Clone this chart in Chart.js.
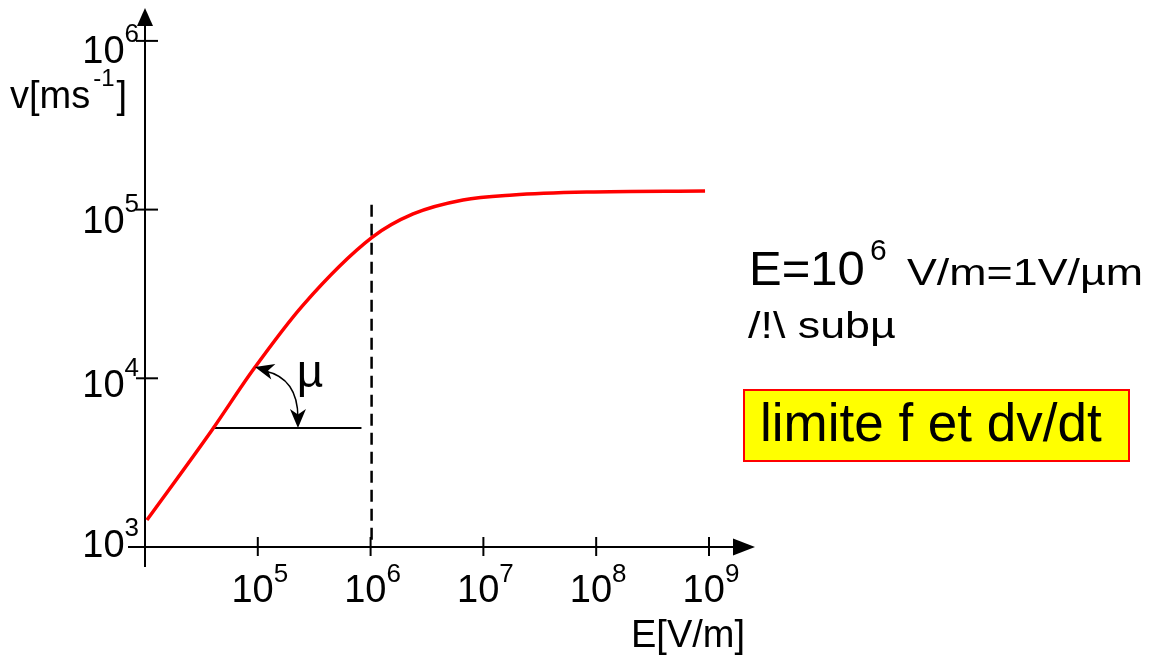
<!DOCTYPE html>
<html><head><meta charset="utf-8">
<script src="https://cdn.jsdelivr.net/npm/chart.js@4/dist/chart.umd.min.js"></script>
<style>html,body{margin:0;padding:0;background:#fff}canvas{display:block}</style>
</head><body><canvas id="c" width="1153" height="656"></canvas>
<script>
// ---- data ----
const fieldE   = [1.04e4, 3.93e4, 9.06e4, 2.52e5, 1.03e6, 2.38e6, 6.59e6, 1.83e7, 8.28e7, 9.23e8];
const velocity = [1445, 4943, 11190, 27160, 68390, 94190, 114000, 122200, 127100, 128800];
const xTickExponents = [5, 6, 7, 8, 9];
const yTickExponents = [3, 4, 5, 6];
const tickBase = '10';
const xTitle = 'E[V/m]';
const yTitleMain = 'v[ms', yTitleSup = '-1', yTitleEnd = ']';
const noteLine1 = ['E=10', '6', 'V/m=1V/µm'];
const noteLine2 = '/!\\ subµ';
const boxText = 'limite f et dv/dt';
const muLabel = 'µ';
// annotation anchors (data units)
const dashedE = 1e6, dashedTopV = 1.07e5;
const horizV = 5070, horizE = [3.98e4, 8.3e5];
const arcE = [9.06e4, 2.27e5, 2.27e5], arcV = [1.15e4, 1.0e4, 5070];
const muPos = [2.9e5, 8870];

const F = '"Liberation Sans", Arial, sans-serif';
const yLabelDy = [10, 19, 23, 22];

function arrowHead(ctx, tx, ty, dx, dy, len, half) {
  const L = Math.hypot(dx, dy); const ux = dx / L, uy = dy / L; const px = -uy, py = ux;
  const bx = tx - ux * len, by = ty - uy * len;
  ctx.beginPath();
  ctx.moveTo(tx, ty);
  ctx.lineTo(bx + px * half, by + py * half);
  ctx.lineTo(tx - ux * len * 0.72, ty - uy * len * 0.72);
  ctx.lineTo(bx - px * half, by - py * half);
  ctx.closePath(); ctx.fill();
}

const decor = {
  id: 'decor',
  beforeDatasetsDraw(chart) {
    const ctx = chart.ctx, xs = chart.scales.x, ys = chart.scales.y;
    const x0 = xs.getPixelForValue(xs.min), y0 = ys.getPixelForValue(ys.min);
    const xEnd = xs.getPixelForValue(xs.max), yTop = ys.getPixelForValue(ys.max);
    ctx.save();
    ctx.strokeStyle = '#000'; ctx.fillStyle = '#000'; ctx.lineWidth = 2;
    // axes
    ctx.beginPath(); ctx.moveTo(x0 - 17, y0); ctx.lineTo(xEnd - 10, y0); ctx.stroke();
    ctx.beginPath(); ctx.moveTo(x0, y0 + 20); ctx.lineTo(x0, yTop + 10); ctx.stroke();
    ctx.beginPath(); ctx.moveTo(xEnd, y0); ctx.lineTo(xEnd - 22, y0 - 8.5); ctx.lineTo(xEnd - 22, y0 + 8.5); ctx.closePath(); ctx.fill();
    ctx.beginPath(); ctx.moveTo(x0, yTop); ctx.lineTo(x0 - 8, yTop + 18); ctx.lineTo(x0 + 8, yTop + 18); ctx.closePath(); ctx.fill();
    // x ticks + labels
    xTickExponents.forEach(e => {
      const px = xs.getPixelForValue(Math.pow(10, e));
      ctx.beginPath(); ctx.moveTo(px, y0 - 10); ctx.lineTo(px, y0 + 9); ctx.stroke();
      ctx.font = '38px ' + F; const w1 = ctx.measureText(tickBase).width;
      ctx.font = '26px ' + F; const w2 = ctx.measureText(String(e)).width;
      const sx = px + 2 - (w1 + w2) / 2;
      ctx.textAlign = 'left'; ctx.textBaseline = 'alphabetic';
      ctx.font = '38px ' + F; ctx.fillText(tickBase, sx, 602);
      ctx.font = '26px ' + F; ctx.fillText(String(e), sx + w1, 582);
    });
    // y ticks + labels
    yTickExponents.forEach((e, i) => {
      const py = ys.getPixelForValue(Math.pow(10, e));
      if (i > 0) { ctx.beginPath(); ctx.moveTo(x0 - 9, py); ctx.lineTo(x0 + 13, py); ctx.stroke(); }
      ctx.font = '26px ' + F; const w2 = ctx.measureText(String(e)).width;
      ctx.font = '38px ' + F; const w1 = ctx.measureText(tickBase).width;
      const right = 139; const base = py + yLabelDy[i];
      ctx.textAlign = 'left';
      ctx.font = '38px ' + F; ctx.fillText(tickBase, right - w2 - w1, base);
      ctx.font = '26px ' + F; ctx.fillText(String(e), right - w2, base - 21);
    });
    // axis titles
    ctx.font = '38px ' + F; ctx.fillText(xTitle, 631, 647);
    let tx = 10;
    ctx.font = '38px ' + F; ctx.fillText(yTitleMain, tx, 108); tx += ctx.measureText(yTitleMain).width + 3;
    ctx.font = '24px ' + F; ctx.fillText(yTitleSup, tx, 86); tx += ctx.measureText(yTitleSup).width + 2;
    ctx.font = '38px ' + F; ctx.fillText(yTitleEnd, tx, 108);
    // dashed line
    const dx = xs.getPixelForValue(dashedE) + 1;
    ctx.setLineDash([12, 7]); ctx.lineWidth = 2.5;
    ctx.beginPath(); ctx.moveTo(dx, ys.getPixelForValue(dashedTopV)); ctx.lineTo(dx, y0 - 4); ctx.stroke();
    ctx.setLineDash([]);
    // horizontal reference line
    const hy = ys.getPixelForValue(horizV);
    ctx.lineWidth = 2;
    ctx.beginPath(); ctx.moveTo(xs.getPixelForValue(horizE[0]), hy); ctx.lineTo(xs.getPixelForValue(horizE[1]), hy); ctx.stroke();
    ctx.restore();
  },
  afterDatasetsDraw(chart) {
    const ctx = chart.ctx, xs = chart.scales.x, ys = chart.scales.y;
    ctx.save();
    ctx.strokeStyle = '#000'; ctx.fillStyle = '#000';
    // arc with two arrowheads
    const p = arcE.map((e, i) => [xs.getPixelForValue(e), ys.getPixelForValue(arcV[i])]);
    p[0][0] += 2; p[0][1] -= 1;
    ctx.lineWidth = 1.5;
    ctx.beginPath(); ctx.moveTo(p[0][0] + 10, p[0][1] + 4);
    ctx.quadraticCurveTo(p[1][0], p[1][1], p[2][0], p[2][1] - 10); ctx.stroke();
    arrowHead(ctx, p[0][0], p[0][1], p[0][0] - p[1][0], p[0][1] - p[1][1], 19, 8);
    arrowHead(ctx, p[2][0], p[2][1], p[2][0] - p[1][0], p[2][1] - p[1][1], 19, 8);
    // mu label
    ctx.font = '46px ' + F; ctx.textAlign = 'center'; ctx.textBaseline = 'alphabetic';
    ctx.fillText(muLabel, xs.getPixelForValue(muPos[0]), ys.getPixelForValue(muPos[1]));
    ctx.textAlign = 'left';
    // right-side note
    ctx.font = '49px ' + F; ctx.fillText(noteLine1[0], 749, 285);
    ctx.font = '30px ' + F; ctx.fillText(noteLine1[1], 870, 260);
    ctx.save(); ctx.translate(907, 285); ctx.scale(1.21, 1);
    ctx.font = '37px ' + F; ctx.fillText(noteLine1[2], 0, 0); ctx.restore();
    ctx.save(); ctx.translate(748, 338); ctx.scale(1.21, 1);
    ctx.font = '37px ' + F; ctx.fillText(noteLine2, 0, 0); ctx.restore();
    // yellow box
    ctx.fillStyle = '#ffff00'; ctx.fillRect(744, 390, 385, 71);
    ctx.strokeStyle = '#ff0000'; ctx.lineWidth = 2; ctx.strokeRect(744, 390, 385, 71);
    ctx.fillStyle = '#000'; ctx.font = '53px ' + F; ctx.fillText(boxText, 760, 441);
    ctx.restore();
  }
};

new Chart(document.getElementById('c'), {
  type: 'line',
  data: { datasets: [{
    data: fieldE.map((e, i) => ({ x: e, y: velocity[i] })),
    borderColor: '#ff0000', borderWidth: 3.5, pointRadius: 0, fill: false,
    cubicInterpolationMode: 'monotone'
  }] },
  options: {
    responsive: false, animation: false, devicePixelRatio: 1,
    layout: { padding: { left: 145, right: 398, top: 8, bottom: 109 } },
    plugins: { legend: { display: false }, tooltip: { enabled: false } },
    scales: {
      x: { type: 'logarithmic', min: 1e4, max: Math.pow(10, 9.408), display: false },
      y: { type: 'logarithmic', min: 1e3, max: Math.pow(10, 6.195), display: false }
    }
  },
  plugins: [decor]
});
</script>
</body></html>
